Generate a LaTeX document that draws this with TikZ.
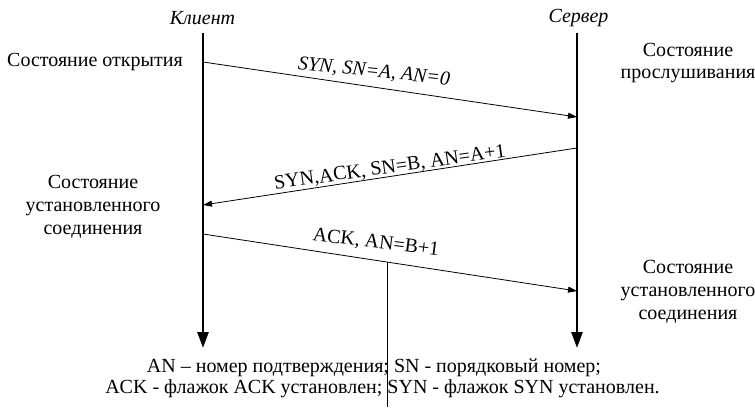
\documentclass[tikz,border=0pt]{standalone}
\usepackage{fontspec}
\setmainfont{Liberation Serif}
\usetikzlibrary{arrows.meta}
\begin{document}
\begin{tikzpicture}[x=1pt,y=-1pt,
  lifeline/.style={line width=2.6pt,-{Triangle[length=16pt,width=11pt]}},
  msg/.style={line width=0.8pt,-{Triangle[length=9pt,width=6pt]}},
  thinline/.style={line width=0.6pt},
  lbl/.style={font=\fontsize{20}{23}\selectfont, inner sep=0pt},
  ilbl/.style={font=\fontsize{20}{23}\selectfont\itshape, inner sep=0pt},
  state/.style={font=\fontsize{20}{22.8}\selectfont, align=center, inner sep=0pt}]
\useasboundingbox (0,0) rectangle (755,407);
% lifelines
\coordinate (cT) at (203,33);
\coordinate (cB) at (203,348);
\coordinate (sT) at (577,33);
\coordinate (sB) at (577,348);
\node[ilbl] (client) at (202.5,18.5) {Клиент};
\node[ilbl] (server) at (578.5,18.5) {Сервер};
\draw[lifeline] (cT) -- (cB);
\draw[lifeline] (sT) -- (sB);
% message points
\coordinate (m1a) at (203,62);
\coordinate (m1b) at (577,117);
\coordinate (m2a) at (577,148);
\coordinate (m2b) at (203,205);
\coordinate (m3a) at (203,234);
\coordinate (m3b) at (577,291);
\draw[msg] (m1a) -- (m1b);
\draw[msg] (m2a) -- (m2b);
\draw[msg] (m3a) -- coordinate[pos=0.492] (m3v) (m3b);
\node[ilbl, rotate=-6] (l1) at (374,72) {SYN, SN=A, AN=0};
\node[lbl, rotate=8] (l2) at (390,168) {SYN,ACK, SN=B, AN=A+1};
\node[lbl, rotate=-7] (l3) at (376,243) {ACK, AN=B+1};
\coordinate (vEnd) at (m3v |- 0,407);
\draw[thinline] (m3v) -- (vEnd);
% states
\node[state, anchor=west] (st1) at (7,62) {Состояние открытия};
\node[state] (st2) at (93,207) {Состояние\\установленного\\соединения};
\node[state] (st3) at (688,63) {Состояние\\прослушивания};
\node[state] (st4) at (688,292) {Состояние\\установленного\\соединения};
% legend
\node[state] (leg1) at (374,368) {AN – номер подтверждения; SN - порядковый номер;};
\node[state] (leg2) at (382.5,389) {ACK - флажок ACK установлен; SYN - флажок SYN установлен.};
\end{tikzpicture}
\end{document}
